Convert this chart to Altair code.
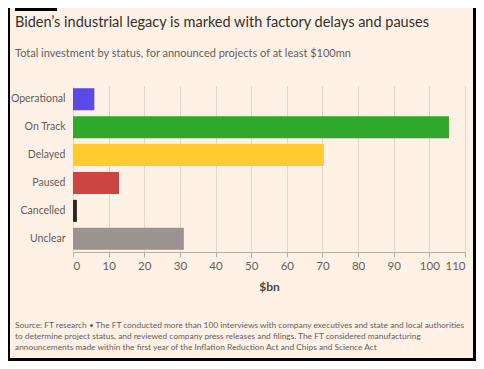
import altair as alt
import pandas as pd

categories = ["Operational", "On Track", "Delayed", "Paused", "Cancelled", "Unclear"]
values = [6.0, 105.5, 70.4, 12.9, 1.1, 31.1]
colors = ["#5B4AE6", "#2FA92C", "#FFCB2E", "#CC4543", "#2B2623", "#9A9390"]
x_ticks = [0, 10, 20, 30, 40, 50, 60, 70, 80, 90, 100, 110]

title = "Biden\u2019s industrial legacy is marked with factory delays and pauses"
subtitle = "Total investment by status, for announced projects of at least $100mn"
footnote = [
    "Source: FT research \u2022 The FT conducted more than 100 interviews with company executives and state and local authorities",
    "to determine project status, and reviewed company press releases and filings. The FT considered manufacturing",
    "announcements made within the first year of the Inflation Reduction Act and Chips and Science Act",
]

FONT = "Lato"
BG = "#FFF1E5"

df = pd.DataFrame({"status": categories, "value": values})

bars = alt.Chart(df).mark_bar().encode(
    x=alt.X("value:Q", scale=alt.Scale(domain=[0, 110], nice=False),
            axis=alt.Axis(values=x_ticks, title="$bn", grid=True, gridColor="#E3D6CB",
                          domainColor="#B8AEA6", tickColor="#B8AEA6", tickSize=5,
                          labelColor="#66605C", labelFontSize=11.5, labelFont=FONT, labelPadding=3,
                          titleFont=FONT, titleFontSize=12, titleColor="#4D4845",
                          titleFontWeight="bold", titlePadding=10)),
    y=alt.Y("status:N", sort=categories,
            scale=alt.Scale(paddingInner=0.21, paddingOuter=0.08),
            axis=alt.Axis(title=None, domain=False, ticks=False, labelFont=FONT,
                          labelFontSize=10.5, labelColor="#66605C", labelPadding=8)),
    color=alt.Color("status:N", scale=alt.Scale(domain=categories, range=colors), legend=None),
)

def text_layer(txt, x, y, size, color, weight="normal"):
    return alt.Chart(pd.DataFrame({"t": [txt]})).mark_text(
        align="left", baseline="alphabetic", font=FONT, fontSize=size,
        color=color, fontWeight=weight,
    ).encode(text="t:N", x=alt.value(x), y=alt.value(y))

t_title = text_layer(title, -58, -59, 14.5, "#33302E")
t_sub = text_layer(subtitle, -58, -29, 11, "#66605C")
t_foot = [text_layer(line, -58, 242 + 11 * i, 8.35, "#66605C") for i, line in enumerate(footnote)]

border_df = pd.DataFrame({"k": [1]})
left_b = alt.Chart(border_df).mark_rule(color="#000000", strokeWidth=2).encode(
    x=alt.value(-64), y=alt.value(-78), y2=alt.value(275))
right_b = alt.Chart(border_df).mark_rule(color="#000000", strokeWidth=3).encode(
    x=alt.value(401.5), y=alt.value(-78), y2=alt.value(275))
bottom_b = alt.Chart(border_df).mark_rule(color="#000000", strokeWidth=3).encode(
    x=alt.value(-65), x2=alt.value(403), y=alt.value(273.5))
top_strip = alt.Chart(border_df).mark_rule(color="#000000", strokeWidth=4).encode(
    x=alt.value(-58), x2=alt.value(-16), y=alt.value(-77))

chart = alt.layer(bars, t_title, t_sub, *t_foot, left_b, right_b, bottom_b, top_strip).properties(
    width=392, height=166, background=BG,
    padding={"left": 65, "top": 78, "right": 11, "bottom": 109},
    autosize=alt.AutoSizeParams(type="none"),
).configure_view(stroke=None).configure_axis(labelFont=FONT)

chart.save("out.html", embed_options={"renderer": "svg", "actions": False})
